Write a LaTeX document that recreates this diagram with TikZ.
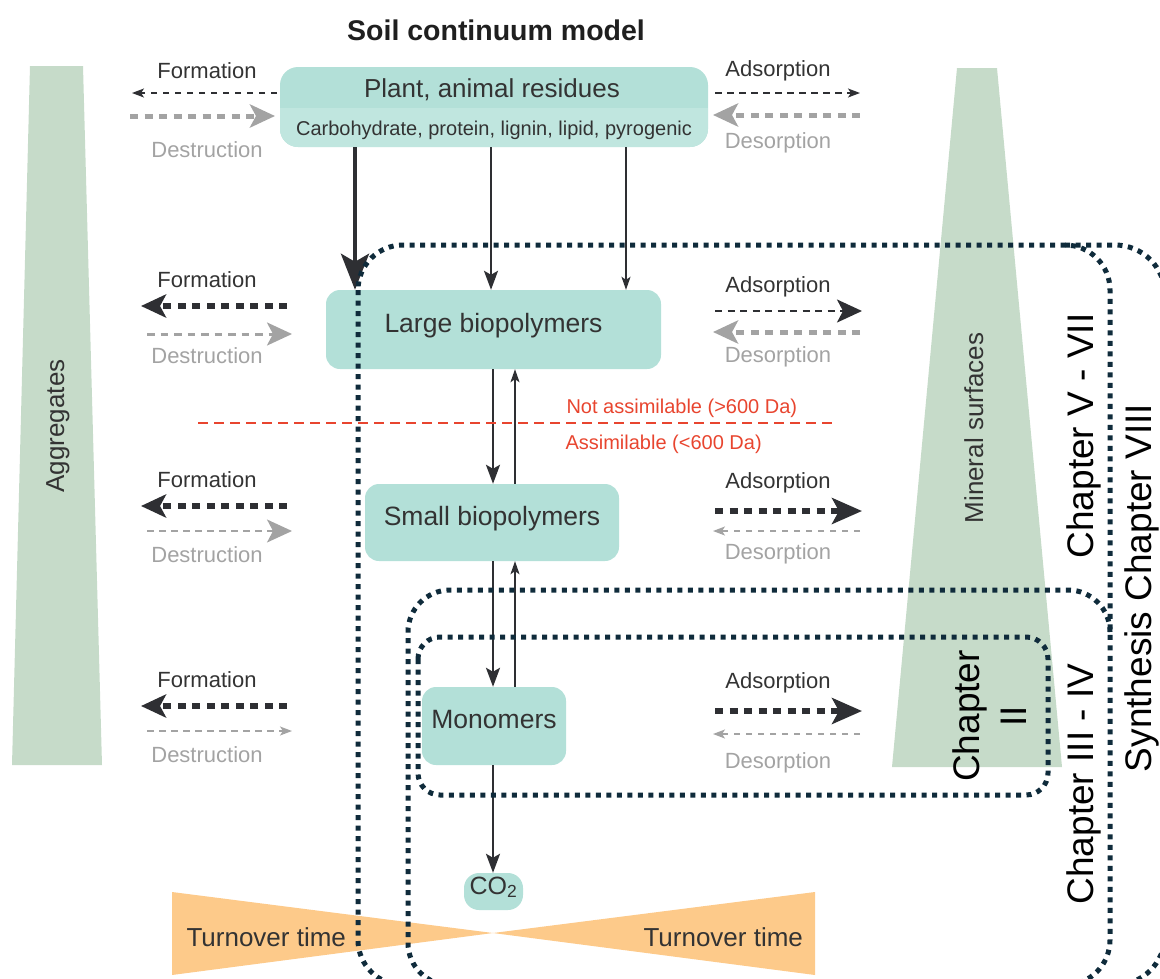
\documentclass[tikz,border=0pt]{standalone}
\usepackage{fontspec}
\setmainfont{Liberation Sans}
\usetikzlibrary{arrows.meta,calc}
\definecolor{teal1}{HTML}{B3E0D8}
\definecolor{teal2}{HTML}{C0E6DF}
\definecolor{sage}{HTML}{C6DBC9}
\definecolor{orng}{HTML}{FDCA8A}
\definecolor{redl}{HTML}{E8452F}
\definecolor{dk}{HTML}{2E2F33}
\definecolor{gr}{HTML}{A3A3A3}
\definecolor{navy}{HTML}{0F2B3B}
\definecolor{txt}{HTML}{333333}
\newcommand{\myfs}[1]{\fontsize{#1}{#1}\selectfont}
\begin{document}
\begin{tikzpicture}[x=1pt,y=-1pt,
  box/.style={fill=teal1, rounded corners=14pt, inner sep=0pt, text=txt, font=\myfs{26.5}, text height=0.75em, text depth=0.25em},
  lab/.style={anchor=base, font=\myfs{22}, text=txt},
  glab/.style={anchor=base, font=\myfs{22}, text=gr},
  dkthick/.style={draw=dk, line width=5.2pt, dash pattern=on 8pt off 6.5pt},
  dkmed/.style={draw=dk, line width=2.5pt, dash pattern=on 7pt off 5.5pt},
  dkthin/.style={draw=dk, line width=1.3pt, dash pattern=on 6.5pt off 5.5pt},
  grthick/.style={draw=gr, line width=5pt, dash pattern=on 8pt off 6.5pt},
  grmed/.style={draw=gr, line width=3pt, dash pattern=on 7.5pt off 6pt},
  grthin/.style={draw=gr, line width=1.5pt, dash pattern=on 6.5pt off 5.5pt},
  hhuge/.style={-{Stealth[length=30pt,width=26pt,inset=7pt]}},
  hbig/.style={-{Stealth[length=25pt,width=23pt,inset=6pt]}},
  hsmall/.style={-{Stealth[length=12pt,width=9pt,inset=3pt]}},
  vthick/.style={draw=dk, line width=4.5pt, -{Stealth[length=36pt,width=28pt,inset=8pt]}},
  vmed/.style={draw=dk, line width=2.4pt, -{Stealth[length=19pt,width=14pt,inset=4pt]}},
  vthin/.style={draw=dk, line width=1.4pt, -{Stealth[length=13pt,width=9pt,inset=3pt]}},
  dotb/.style={draw=navy, line width=5pt, dash pattern=on 5pt off 5.5pt},
  chap/.style={rotate=90, anchor=base, font=\myfs{37}, text=black}
]
\useasboundingbox (0,0) rectangle (1160,978);

% background shapes
\fill[sage] (30,66) -- (83,66) -- (102,765) -- (12,765) -- cycle;
\fill[sage] (957,68) -- (997,68) -- (1062,767) -- (892,767) -- cycle;
\fill[orng] (172,892) -- (493,933) -- (172,975) -- cycle;
\fill[orng] (815,892) -- (493,933) -- (815,975) -- cycle;

\node[rotate=90, anchor=base, font=\myfs{26}, text=txt] (aggr) at (64,426) {Aggregates};
\node[rotate=90, anchor=base, font=\myfs{26}, text=txt] (mins) at (983,428) {Mineral surfaces};
\node[anchor=base west, font=\myfs{26}, text=txt] (turnl) at (183,946) {Turnover time};
\node[anchor=base west, font=\myfs{26}, text=txt] (turnr) at (640,946) {Turnover time};

% title
\node[anchor=base, font=\bfseries\myfs{28.5}, text=black!88] (title) at (496,40) {Soil continuum model};

% boxes
\node[box, minimum width=428pt, minimum height=80pt, rounded corners=18pt] (plant) at (494,107) {};
\begin{scope}
  \clip[rounded corners=18pt] (280,67) rectangle (708,147);
  \fill[teal2] (280,108) rectangle (708,147);
\end{scope}
\node[lab, font=\myfs{26}] (plantt) at (492,97) {Plant, animal residues};
\node[lab, font=\myfs{20}] (plantc) at (494,135) {Carbohydrate, protein, lignin, lipid, pyrogenic};

\node[box, minimum width=335pt, minimum height=79pt] (large) at (493.5,329.5) {Large biopolymers};
\node[box, minimum width=254pt, minimum height=77pt] (small) at (492,522.5) {Small biopolymers};
\node[box, minimum width=144pt, minimum height=78pt] (mono) at (494,726) {Monomers};
\node[box, minimum width=59pt, minimum height=37pt, font=\myfs{25}, rounded corners=15pt] (co2) at (493.5,891.5) {CO\textsubscript{2}};

% vertical connectors
\coordinate (xa) at (355,0);
\coordinate (xb) at (491,0);
\coordinate (xc) at (626,0);
\coordinate (xd) at (493,0);
\coordinate (xu) at (515,0);
\draw[vthick] (plant.south -| xa) -- (large.north -| xa);
\draw[vmed] (plant.south -| xb) -- (large.north -| xb);
\draw[vthin] (plant.south -| xc) -- (large.north -| xc);
\draw[vmed] (large.south -| xd) -- (small.north -| xd);
\draw[vthin] (small.north -| xu) -- (large.south -| xu);
\draw[vmed] (small.south -| xd) -- (mono.north -| xd);
\draw[vthin] (mono.north -| xu) -- (small.south -| xu);
\draw[vmed] (mono.south -| xd) -- (co2.north -| xd);

% left side: formation / destruction
\coordinate (L1a) at (277,93);  \coordinate (L1b) at (132,93);
\coordinate (L1c) at (130,116); \coordinate (L1d) at (275,116);
\coordinate (L2a) at (287,306); \coordinate (L2b) at (141,306);
\coordinate (L2c) at (147,334); \coordinate (L2d) at (292,334);
\coordinate (L3a) at (287,506); \coordinate (L3b) at (141,506);
\coordinate (L3c) at (147,531); \coordinate (L3d) at (292,531);
\coordinate (L4a) at (287,706); \coordinate (L4b) at (141,706);
\coordinate (L4c) at (147,731); \coordinate (L4d) at (292,731);
\draw[dkthin, hsmall] (L1a) -- (L1b);
\draw[grthick, hbig] (L1c) -- (L1d);
\draw[dkthick, hbig] (L2a) -- (L2b);
\draw[grmed, hbig] (L2c) -- (L2d);
\draw[dkthick, hbig] (L3a) -- (L3b);
\draw[grthin, hbig] (L3c) -- (L3d);
\draw[dkthick, hbig] (L4a) -- (L4b);
\draw[grthin, hsmall] (L4c) -- (L4d);
\node[lab] (f1) at (207,78) {Formation};
\node[glab] (d1) at (207,157) {Destruction};
\node[lab] (f2) at (207,287) {Formation};
\node[glab] (d2) at (207,363) {Destruction};
\node[lab] (f3) at (207,487) {Formation};
\node[glab] (d3) at (207,562) {Destruction};
\node[lab] (f4) at (207,687) {Formation};
\node[glab] (d4) at (207,762) {Destruction};

% right side: adsorption / desorption
\coordinate (R1a) at (715,93);  \coordinate (R1b) at (860,93);
\coordinate (R1c) at (860,115); \coordinate (R1d) at (713,115);
\coordinate (R2a) at (715,311); \coordinate (R2b) at (862,311);
\coordinate (R2c) at (860,332); \coordinate (R2d) at (713,332);
\coordinate (R3a) at (715,511); \coordinate (R3b) at (862,511);
\coordinate (R3c) at (860,531); \coordinate (R3d) at (713,531);
\coordinate (R4a) at (715,711); \coordinate (R4b) at (862,711);
\coordinate (R4c) at (860,734); \coordinate (R4d) at (713,734);
\draw[dkthin, hsmall] (R1a) -- (R1b);
\draw[grthick, hbig] (R1c) -- (R1d);
\draw[dkmed, hbig] (R2a) -- (R2b);
\draw[grthick, hbig] (R2c) -- (R2d);
\draw[dkthick, hhuge] (R3a) -- (R3b);
\draw[grthin, hsmall] (R3c) -- (R3d);
\draw[dkthick, hhuge] (R4a) -- (R4b);
\draw[grthin, hsmall] (R4c) -- (R4d);
\node[lab] (a1) at (778,76) {Adsorption};
\node[glab] (s1) at (778,148) {Desorption};
\node[lab] (a2) at (778,292) {Adsorption};
\node[glab] (s2) at (778,362) {Desorption};
\node[lab] (a3) at (778,488) {Adsorption};
\node[glab] (s3) at (778,559) {Desorption};
\node[lab] (a4) at (778,688) {Adsorption};
\node[glab] (s4) at (778,768) {Desorption};

% assimilable threshold
\coordinate (r1) at (198,423);
\coordinate (r2) at (838,423);
\draw[draw=redl, line width=1.5pt, dash pattern=on 10pt off 6pt] (r1) -- (r2);
\node[anchor=base west, font=\myfs{20}, text=redl] (nass) at (563,413) {Not assimilable (>600 Da)};
\node[anchor=base west, font=\myfs{20}, text=redl] (ass) at (562,449) {Assimilable (<600 Da)};

% chapter boxes
\draw[dotb, rounded corners=45pt] (358,245) rectangle (1110,985);
\draw[dotb, rounded corners=50pt] (1065,245) -- (1165,245) -- (1165,985) -- (1060,985);
\draw[dotb, rounded corners=42pt] (1110,632) -- (1110,590) -- (408,590) -- (408,985) -- (1065,985);
\draw[dotb, rounded corners=22pt] (418,637) rectangle (1048,795);

\node[chap] (c57) at (1093,436) {Chapter V - VII};
\node[chap] (c8) at (1151,588) {Synthesis Chapter VIII};
\node[chap] (c34) at (1093,784) {Chapter III - IV};
\node[rotate=90, align=center, font=\fontsize{37}{47}\selectfont, text=black] (c2) at (990,716) {Chapter\\II};
\end{tikzpicture}
\end{document}
